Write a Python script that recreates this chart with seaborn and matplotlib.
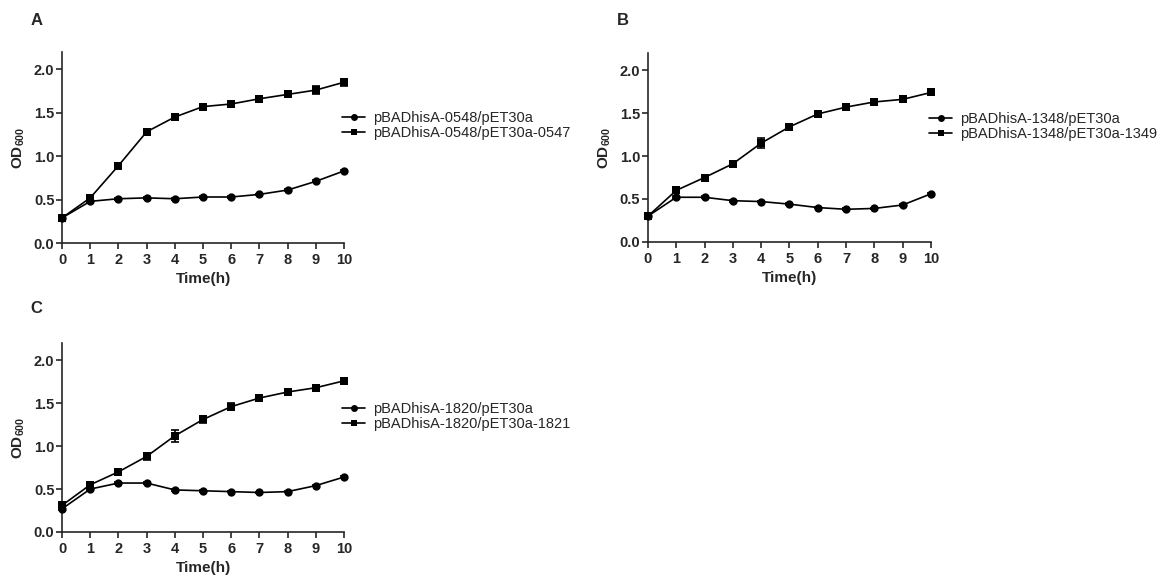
import matplotlib.pyplot as plt
import pandas as pd
import numpy as np
import seaborn as sns

# time points (h)
time_h = [0, 1, 2, 3, 4, 5, 6, 7, 8, 9, 10]

# panel A
a_labels = ["pBADhisA-0548/pET30a", "pBADhisA-0548/pET30a-0547"]
a_ctrl = [0.29, 0.48, 0.51, 0.52, 0.51, 0.53, 0.53, 0.56, 0.61, 0.71, 0.83]
a_ctrl_err = [0.01, 0.01, 0.01, 0.01, 0.01, 0.01, 0.01, 0.01, 0.01, 0.01, 0.01]
a_exp = [0.29, 0.52, 0.89, 1.28, 1.45, 1.57, 1.60, 1.66, 1.71, 1.76, 1.85]
a_exp_err = [0.01, 0.02, 0.02, 0.02, 0.02, 0.02, 0.02, 0.02, 0.03, 0.05, 0.04]

# panel B
b_labels = ["pBADhisA-1348/pET30a", "pBADhisA-1348/pET30a-1349"]
b_ctrl = [0.30, 0.52, 0.52, 0.48, 0.47, 0.44, 0.40, 0.38, 0.39, 0.43, 0.56]
b_ctrl_err = [0.01, 0.01, 0.01, 0.01, 0.01, 0.01, 0.01, 0.01, 0.01, 0.01, 0.01]
b_exp = [0.30, 0.60, 0.75, 0.91, 1.15, 1.34, 1.49, 1.57, 1.63, 1.66, 1.74]
b_exp_err = [0.01, 0.02, 0.02, 0.02, 0.06, 0.03, 0.02, 0.02, 0.02, 0.02, 0.02]

# panel C
c_labels = ["pBADhisA-1820/pET30a", "pBADhisA-1820/pET30a-1821"]
c_ctrl = [0.27, 0.50, 0.57, 0.57, 0.49, 0.48, 0.47, 0.46, 0.47, 0.54, 0.64]
c_ctrl_err = [0.01, 0.01, 0.01, 0.01, 0.01, 0.01, 0.01, 0.01, 0.01, 0.01, 0.01]
c_exp = [0.31, 0.55, 0.70, 0.88, 1.12, 1.31, 1.46, 1.56, 1.63, 1.68, 1.76]
c_exp_err = [0.01, 0.02, 0.02, 0.04, 0.07, 0.04, 0.04, 0.02, 0.02, 0.03, 0.02]

sns.set_style("ticks")
plt.rcParams['font.family'] = ['Liberation Sans', 'DejaVu Sans']
plt.rcParams['mathtext.fontset'] = 'custom'
plt.rcParams['mathtext.rm'] = 'Liberation Sans:bold'
plt.rcParams['mathtext.it'] = 'Liberation Sans:bold'
plt.rcParams['mathtext.bf'] = 'Liberation Sans:bold'

fig = plt.figure(figsize=(11.66, 5.76), dpi=100)

panels = [
    ("A", [0.0532, 0.578, 0.2418, 0.332], a_labels, a_ctrl, a_ctrl_err, a_exp, a_exp_err, 0.615, (0.031, 0.965)),
    ("B", [0.5557, 0.580, 0.2427, 0.328], b_labels, b_ctrl, b_ctrl_err, b_exp, b_exp_err, 0.61, (0.534, 0.965)),
    ("C", [0.0532, 0.0764, 0.2418, 0.328], c_labels, c_ctrl, c_ctrl_err, c_exp, c_exp_err, 0.61, (0.031, 0.465)),
]

for letter, pos, labels, ctrl, ctrl_err, exp, exp_err, leg_y, let_xy in panels:
    ax = fig.add_axes(pos)
    df = pd.DataFrame({
        "time": time_h + time_h,
        "od": ctrl + exp,
        "strain": [labels[0]] * len(time_h) + [labels[1]] * len(time_h),
    })
    # error bars first, so the markers sit on top
    ax.errorbar(time_h, ctrl, yerr=ctrl_err, fmt='none', ecolor='black',
                elinewidth=1.2, capsize=3, capthick=1.2, clip_on=False, zorder=2)
    ax.errorbar(time_h, exp, yerr=exp_err, fmt='none', ecolor='black',
                elinewidth=1.2, capsize=3, capthick=1.2, clip_on=False, zorder=2)
    sns.lineplot(data=df, x="time", y="od", style="strain", markers=['o', 's'],
                 dashes=False, color='black', linewidth=1.2, markersize=6,
                 markeredgewidth=0, ax=ax, clip_on=False, zorder=3)

    ax.set_xlim(0, 10)
    ax.set_ylim(0, 2.2)
    ax.set_xticks(range(0, 11))
    ax.set_yticks([0.0, 0.5, 1.0, 1.5, 2.0])
    ax.set_yticklabels(["0.0", "0.5", "1.0", "1.5", "2.0"])
    ax.tick_params(axis='both', direction='out', length=4, width=1.2,
                   labelsize=10.5, pad=1.5)
    ax.tick_params(axis='x', pad=3)
    for lab in ax.get_xticklabels() + ax.get_yticklabels():
        lab.set_fontweight('bold')
    for s in ['left', 'bottom']:
        ax.spines[s].set_linewidth(1.2)
    sns.despine(ax=ax)

    ax.set_xlabel("Time(h)", fontsize=11, fontweight='bold', labelpad=4)
    ax.set_ylabel("OD$_{600}$", fontsize=11, fontweight='bold', labelpad=5)

    h, l = ax.get_legend_handles_labels()
    leg = ax.legend(h, l, loc='center left', bbox_to_anchor=(0.993, leg_y),
                    frameon=False, fontsize=10.5, handlelength=1.6,
                    handletextpad=0.5, labelspacing=0.1, borderpad=0,
                    borderaxespad=0)
    for lh in leg.legend_handles:
        lh.set_markersize(5)

    fig.text(let_xy[0], let_xy[1], letter, fontsize=12, fontweight='bold',
             ha='center', va='center')

plt.savefig("out.png", dpi=100)
